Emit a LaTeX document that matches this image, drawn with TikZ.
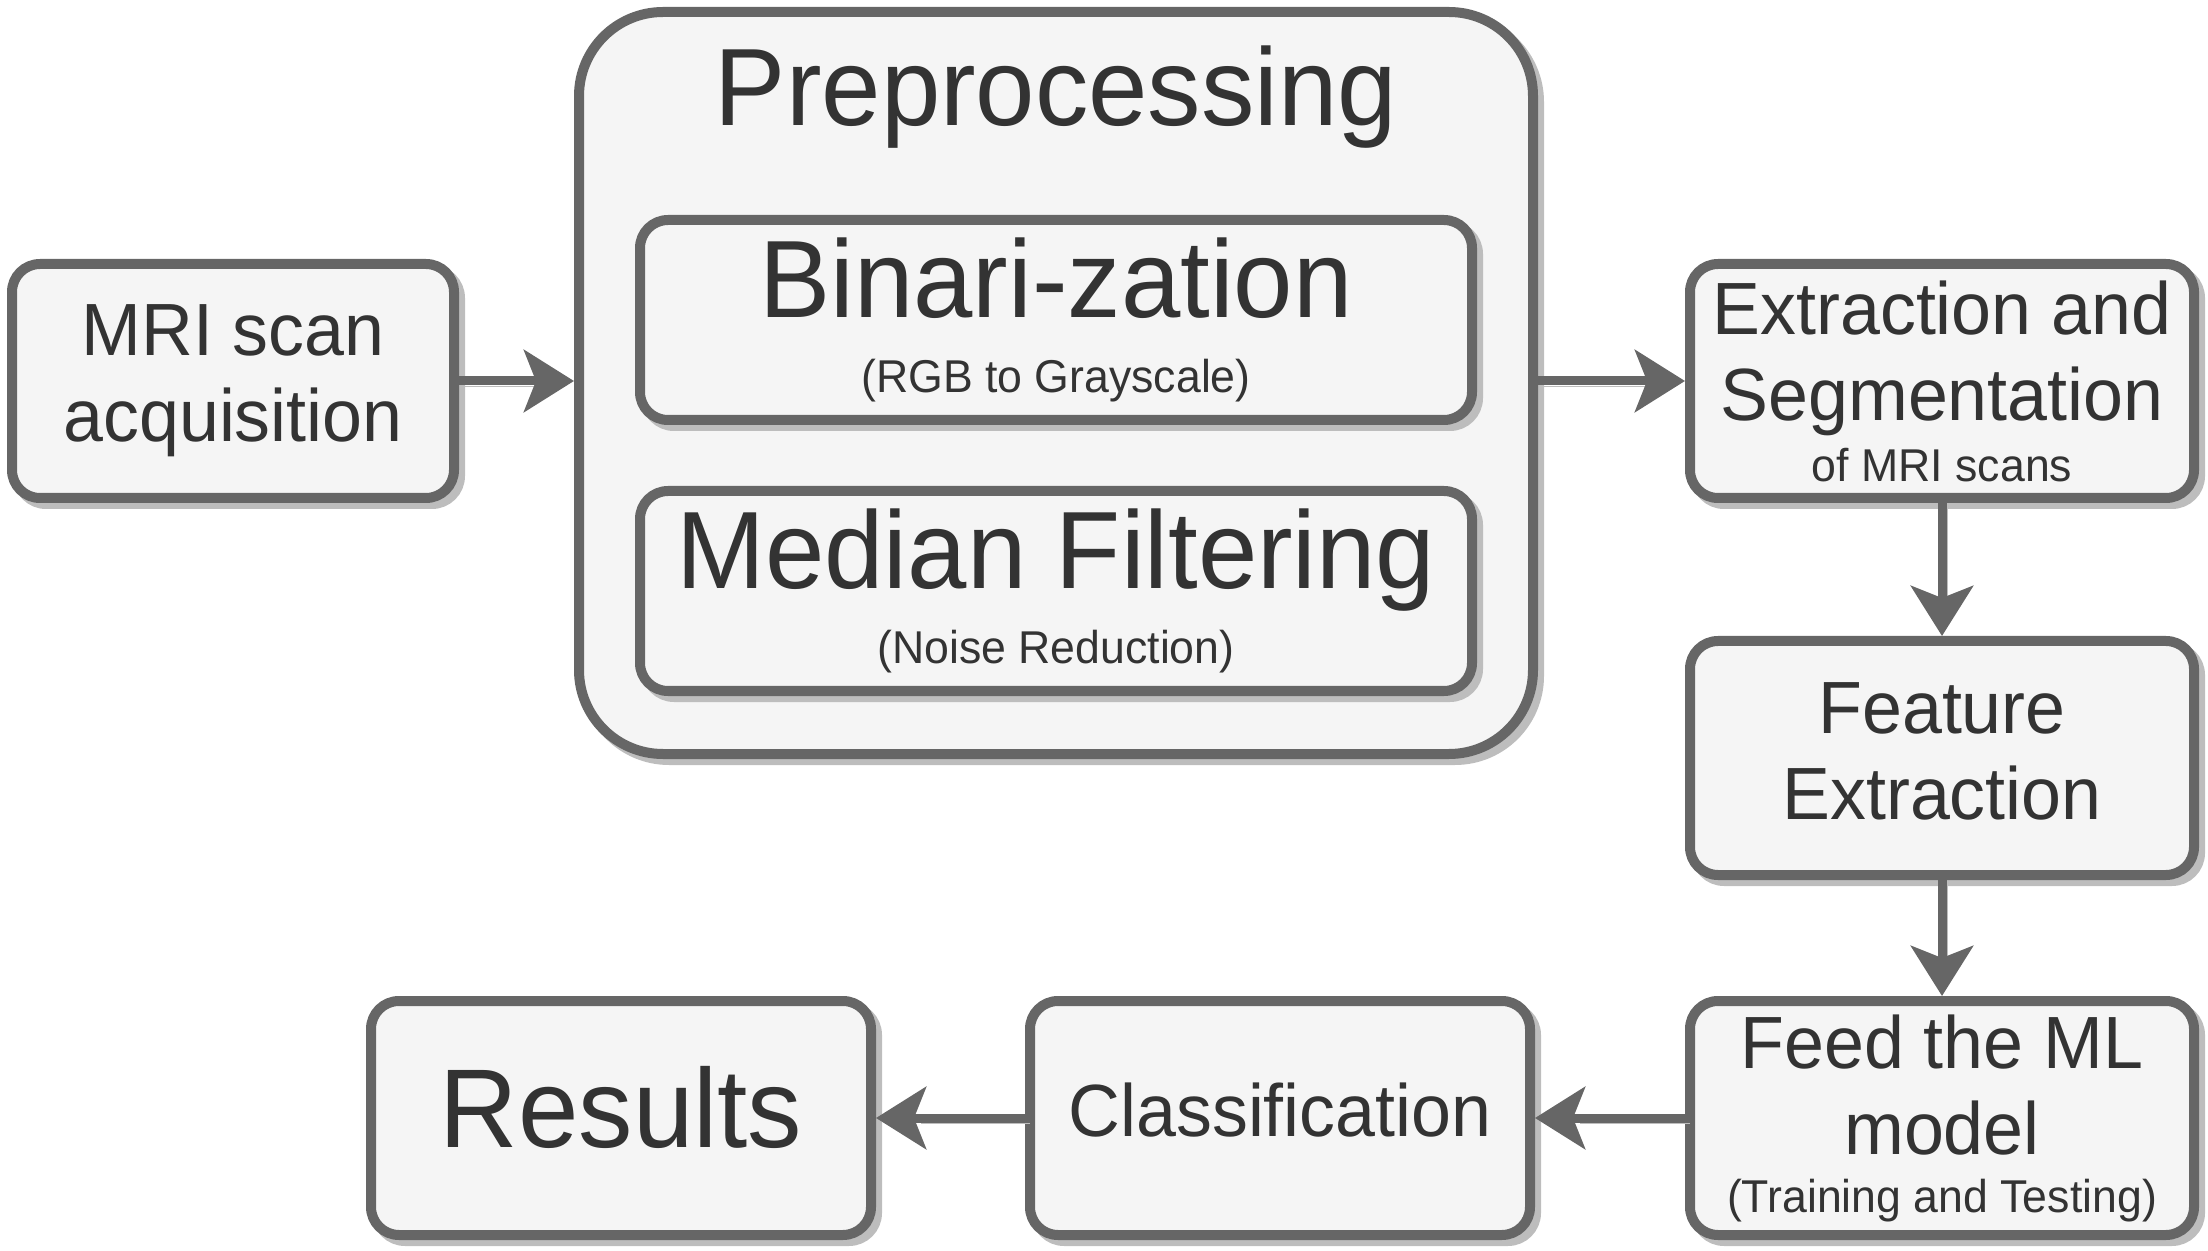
\documentclass[tikz,border=0pt]{standalone}
\usepackage{fontspec}
\setmainfont{Liberation Sans}[FakeStretch=0.97]
\usetikzlibrary{arrows.meta,shadows}
\definecolor{boxFill}{HTML}{F5F5F5}
\definecolor{boxLine}{HTML}{666666}
\definecolor{boxText}{HTML}{333333}
\definecolor{boxShadow}{HTML}{BDBDBD}
\newcommand{\titleFont}{\fontsize{55}{60}\selectfont}
\newcommand{\stepFont}{\fontsize{37}{43}\selectfont}
\newcommand{\noteFont}{\fontsize{23}{28}\selectfont}
\newcommand{\resultFont}{\fontsize{56}{64}\selectfont}

\begin{document}
\begin{tikzpicture}[x=0.5pt, y=-0.5pt]
  \tikzset{
    stepbox/.style={draw=boxLine, fill=boxFill, text=boxText, line width=5pt,
      rounded corners=14pt, align=center, inner sep=0pt, font=\stepFont,
      drop shadow={shadow xshift=3pt, shadow yshift=-3pt, fill=boxShadow, draw=boxShadow, opacity=1},
      minimum width=250pt, minimum height=117pt},
    flow/.style={draw=boxLine, line width=4.5pt, -{Stealth[length=25pt, width=31pt, inset=6pt]},
      preaction={draw=boxShadow, -, shorten >=20pt, transform canvas={shift={(2.5pt,-2.5pt)}}}}
  }
  \useasboundingbox (0,0) rectangle (2208,1251);

  % preprocessing block
  \node[stepbox, minimum width=477pt, minimum height=371pt, rounded corners=42pt] (pre) at (1056,383) {};
  \node[text=boxText, anchor=base, font=\titleFont] (pretitle) at (1056,126) {Preprocessing};
  \node[stepbox, font=\titleFont, minimum width=416pt, minimum height=100pt] (bin) at (1056,320)
    {Binari-zation\\[-22.5pt]{\noteFont (RGB to Grayscale)}};
  \node[stepbox, font=\titleFont, minimum width=416pt, minimum height=100pt] (med) at (1056,591)
    {Median Filtering\\[-22.5pt]{\noteFont (Noise Reduction)}};

  % steps
  \node[stepbox, minimum width=221pt] (mri) at (233,381) {MRI scan\\acquisition};
  \node[stepbox, minimum width=252pt] (ext) at (1942,381)
    {Extraction and\\Segmentation\\[-12.5pt]{\noteFont of MRI scans}};
  \node[stepbox, minimum width=252pt, text depth=7pt] (feat) at (1942,758) {Feature\\Extraction};
  \node[stepbox, minimum width=252pt] (feed) at (1942,1118)
    {Feed the ML\\model\\[-14pt]{\noteFont (Training and Testing)}};
  \node[stepbox, text depth=8pt] (cls) at (1280,1118) {Classification};
  \node[stepbox, font=\resultFont, text depth=11pt] (res) at (621,1118) {Results};

  % connectors
  \draw[flow] (mri.east) -- (mri.east -| pre.west);
  \draw[flow] (pre.east |- ext.west) -- (ext.west);
  \draw[flow] (ext.south) -- (feat.north);
  \draw[flow] (feat.south) -- (feed.north);
  \draw[flow] (feed.west) -- (cls.east);
  \draw[flow] (cls.west) -- (res.east);
\end{tikzpicture}
\end{document}
